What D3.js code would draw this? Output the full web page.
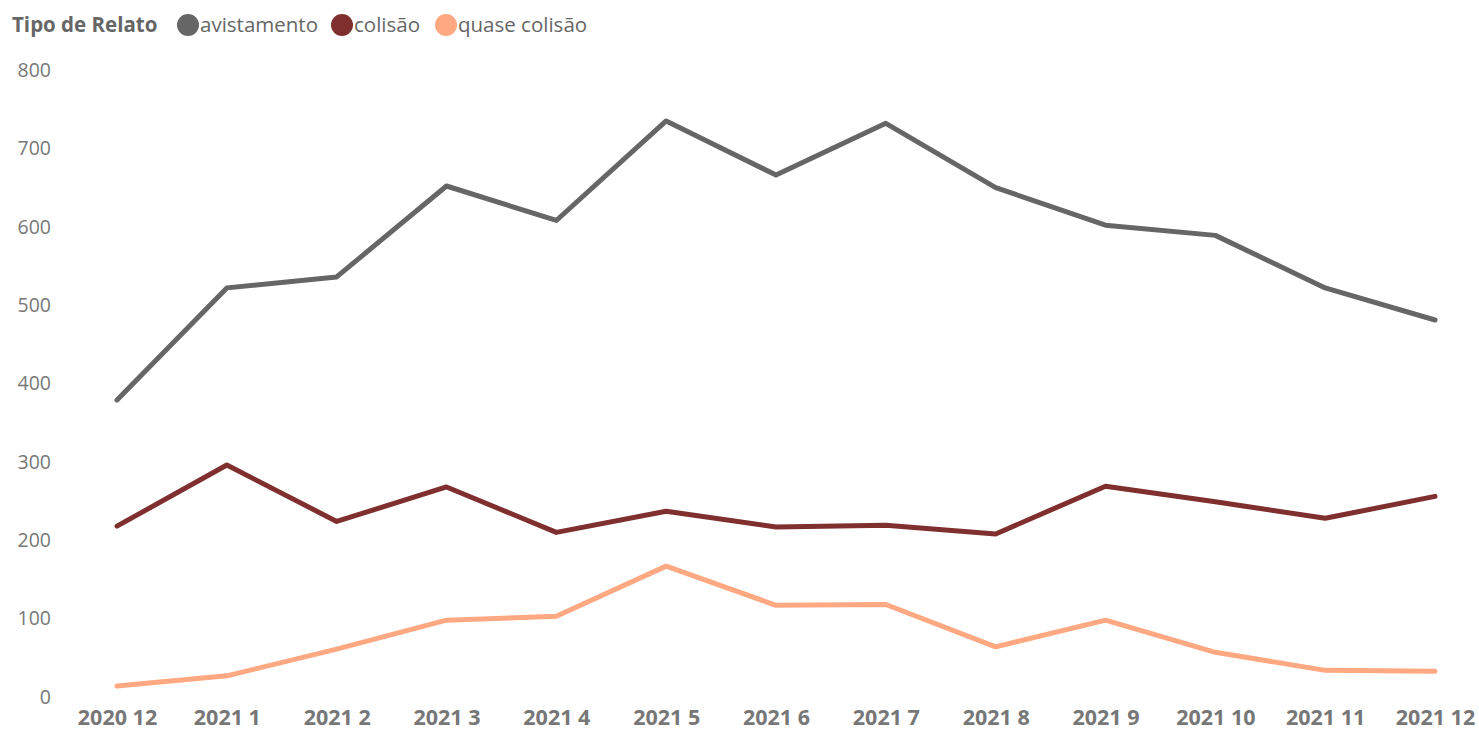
<!DOCTYPE html>
<html>
<head>
<meta charset="utf-8">
<script src="https://cdn.jsdelivr.net/npm/d3@7"></script>
<style>
  body { margin: 0; background: #fff; font-family: "Open Sans", "Noto Sans", sans-serif; }
</style>
</head>
<body>
<div id="chart"></div>
<script>
// Data
const months = ["2020 12", "2021 1", "2021 2", "2021 3", "2021 4", "2021 5", "2021 6",
                "2021 7", "2021 8", "2021 9", "2021 10", "2021 11", "2021 12"];
const avistamento = [379, 522, 536, 652, 608, 735, 666, 732, 650, 602, 589, 522, 481];
const colisao = [218, 296, 224, 268, 210, 237, 217, 219, 208, 269, 249, 228, 256];
const quaseColisao = [14, 27, 61, 98, 103, 167, 117, 118, 64, 98, 57, 34, 33];
const yTicks = [0, 100, 200, 300, 400, 500, 600, 700, 800];

const seriesNames = ["avistamento", "colisão", "quase colisão"];
const seriesColors = ["#666666", "#7F2F2D", "#FFA882"];
const series = [avistamento, colisao, quaseColisao];

const W = 1479, H = 731;
const margin = { top: 70, right: 44, bottom: 34, left: 117 };
const font = "Open Sans, Noto Sans, sans-serif";

const svg = d3.select("#chart").append("svg")
    .attr("width", W)
    .attr("height", H);

// Scales
const x = d3.scalePoint().domain(months).range([margin.left, W - margin.right]);
const y = d3.scaleLinear().domain([0, 800]).range([H - margin.bottom, margin.top]);

// Y axis (labels only)
const yAxis = svg.append("g")
    .attr("transform", "translate(51,0)")
    .call(d3.axisLeft(y).tickValues(yTicks).tickSize(0).tickPadding(0));
yAxis.select(".domain").remove();
yAxis.selectAll("text")
    .attr("font-family", font)
    .attr("font-size", 19.5)
    .attr("fill", "#777")
    .attr("dy", "0.32em");

// X axis
const xAxis = svg.append("g")
    .attr("transform", `translate(0,${H - margin.bottom})`)
    .call(d3.axisBottom(x).tickSize(0).tickPadding(13));
xAxis.select(".domain").remove();
xAxis.selectAll("text")
    .attr("font-family", font)
    .attr("font-size", 21.5)
    .attr("font-weight", "bold")
    .attr("fill", "#777");

// Lines
const line = d3.line()
    .x((d, i) => x(months[i]))
    .y(d => y(d));

svg.selectAll("path.series")
    .data(series)
    .enter()
    .append("path")
    .attr("class", "series")
    .attr("d", line)
    .attr("fill", "none")
    .attr("stroke", (d, i) => seriesColors[i])
    .attr("stroke-width", 5)
    .attr("stroke-linecap", "round")
    .attr("stroke-linejoin", "round");

// Legend
const legend = svg.append("g").attr("transform", "translate(12,25)");
legend.append("text")
    .attr("x", 0).attr("y", 0).attr("dy", "0.35em")
    .attr("font-family", font)
    .attr("font-size", 20.5)
    .attr("font-weight", "bold")
    .attr("fill", "#666")
    .text("Tipo de Relato");

const legendX = [176, 330, 434];
seriesNames.forEach((name, i) => {
    const g = legend.append("g").attr("transform", `translate(${legendX[i]},0)`);
    g.append("circle")
        .attr("cx", 0).attr("cy", 0).attr("r", 11)
        .attr("fill", seriesColors[i]);
    g.append("text")
        .attr("x", 12).attr("y", 0).attr("dy", "0.35em")
        .attr("font-family", font)
        .attr("font-size", 20.5)
        .attr("fill", "#666")
        .text(name);
});
</script>
</body>
</html>
